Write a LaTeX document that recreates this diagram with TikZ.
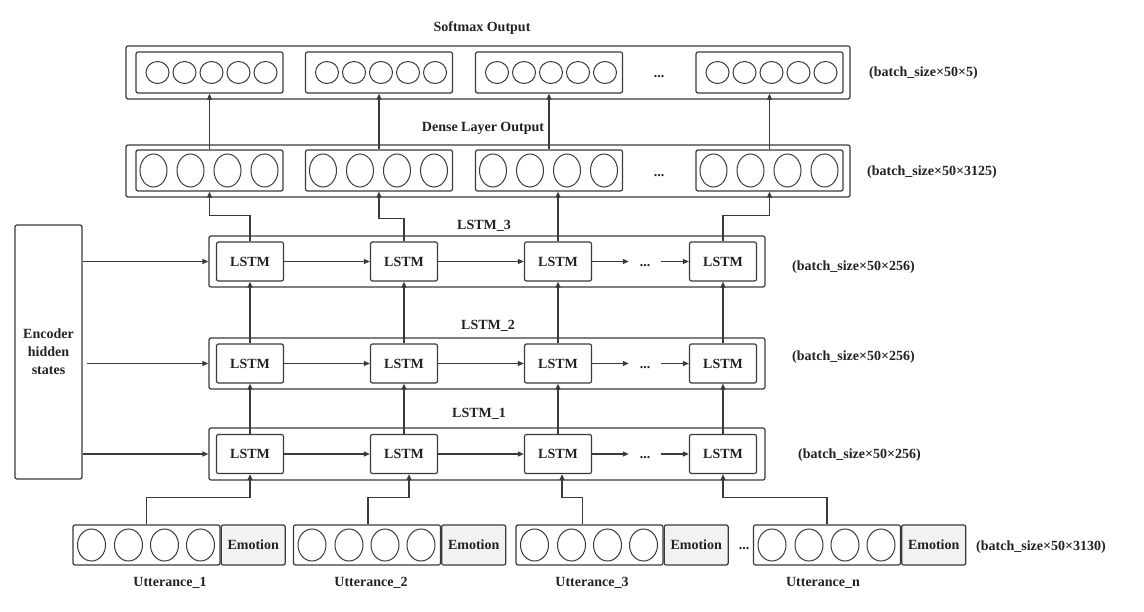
\documentclass[tikz,border=0pt]{standalone}
\usepackage{fontspec}
\setmainfont{Liberation Serif}
\usetikzlibrary{arrows.meta,calc}
\definecolor{lc}{HTML}{3A3A3A}
\definecolor{tc}{HTML}{222222}
\definecolor{emo}{HTML}{F2F2F2}
\begin{document}
\begin{tikzpicture}[x=1pt,y=-1pt,
  every node/.style={text=tc, font=\bfseries\fontsize{14}{18}\selectfont},
  frame/.style={draw=lc, line width=1.2pt, rounded corners=2pt, inner sep=0pt},
  circ/.style={draw=lc, line width=1pt},
  arr/.style={draw=lc, line width=1.2pt, -{Triangle[length=6pt,width=5pt]}},
  note/.style={anchor=west, inner sep=0pt},
  dotsnode/.style={minimum width=32, inner sep=0pt}]
\useasboundingbox (0,0) rectangle (1144,612);

% ---------- Softmax output ----------
\node (stitle) at (482,28.5) {Softmax Output};
\node[frame, minimum width=724, minimum height=53] (sout) at (488,72.5) {};
\foreach \i/\x in {1/209.5,2/379,3/549,4/769.5}{
  \node[frame, minimum width=147, minimum height=41] (s\i) at (\x,72.5) {};
  \foreach \o in {-52,-25,2,29,56}
    \draw[circ] (\x+\o,72.5) ellipse [x radius=11.5, y radius=11];
}
\node (sdots) at (659,77) {...};
\node[note] (snote) at (869,73) {(batch\_size×50×5)};

% ---------- Dense layer output ----------
\node (dtitle) at (483,128) {Dense Layer Output};
\node[frame, minimum width=724, minimum height=52] (dout) at (488,171) {};
\foreach \i/\x in {1/209.5,2/379,3/549,4/769.5}{
  \node[frame, minimum width=147, minimum height=41] (d\i) at (\x,170.5) {};
  \foreach \o in {-56,-19,18,55}
    \draw[circ] (\x+\o,170.5) ellipse [x radius=13.5, y radius=16.5];
}
\node (ddots) at (659,176) {...};
\node[note] (dnote) at (867,172) {(batch\_size×50×3125)};

% ---------- Encoder ----------
\node[frame, minimum width=67, minimum height=254, align=center] (enc) at (48.5,352) {Encoder\\hidden\\states};

% ---------- LSTM rows ----------
\foreach \r/\y/\h in {3/261.5/51,2/363.5/51,1/454/52}{
  \node[frame, minimum width=556, minimum height=\h] (r\r) at (487,\y) {};
  \foreach \i/\x in {1/250,2/404,3/558,4/723}
    \node[frame, minimum width=67, minimum height=39] (l\r\i) at (\x,\y) {LSTM};
  \node[dotsnode] (dt\r) at (645,\y+4) {...};
  \draw[arr] (l\r1.east) -- (l\r2.west);
  \draw[arr] (l\r2.east) -- (l\r3.west);
  \draw[arr] (l\r3.east) -- (l\r3.east -| dt\r.west);
  \draw[arr] (dt\r.east |- l\r4.west) -- (l\r4.west);
}
\node (lab3) at (484,226) {LSTM\_3};
\node (lab2) at (488,326) {LSTM\_2};
\node (lab1) at (479,414) {LSTM\_1};
\node[note] (n3) at (792,267) {(batch\_size×50×256)};
\node[note] (n2) at (792,357) {(batch\_size×50×256)};
\node[note] (n1) at (798,455) {(batch\_size×50×256)};

% encoder inputs
\draw[arr] (enc.east |- r3.center) -- (r3.west);
\draw[arr] ([xshift=4pt]enc.east |- r2.center) -- (r2.west);
\draw[arr] (enc.east |- r1.center) -- (r1.west);

% vertical between rows
\foreach \i in {1,2,3,4}{
  \draw[arr] (l1\i.north) -- (l2\i.south);
  \draw[arr] (l2\i.north) -- (l3\i.south);
}

% LSTM_3 -> dense
\draw[arr] (l31.north) -- ++(0,-25.5) -| (d1.south);
\draw[arr] (l32.north) -- ++(0,-22.5) -| (d2.south);
\draw[arr] (l33.north) -- (l33.north |- d3.south);
\draw[arr] (l34.north) -- ++(0,-25.5) -| (d4.south);

% dense -> softmax
\foreach \i in {1,2,3,4}
  \draw[arr] (d\i.north) -- (s\i.south);

% ---------- Utterances ----------
\foreach \i/\x in {1/146.5,2/367,3/589.5,4/827}{
  \node[frame, minimum width=147, minimum height=40] (u\i) at (\x,545) {};
  \node[frame, fill=emo, minimum width=64, minimum height=40, anchor=west] (e\i) at (u\i.east) {Emotion};
  \foreach \o in {-55,-18,18,54}
    \draw[circ] (\x+\o,545) ellipse [x radius=14, y radius=16];
}
\node (udots) at (744,549) {...};
\node[note] (unote) at (976,547) {(batch\_size×50×3130)};
\node (ut1) at (170,583) {Utterance\_1};
\node (ut2) at (371,583) {Utterance\_2};
\node (ut3) at (592,583) {Utterance\_3};
\node (ut4) at (823,583) {Utterance\_n};

\draw[arr] (u1.north) -- ++(0,-27) -| (l11.south);
\draw[arr] ([xshift=1pt]u2.north) -- ++(0,-27) -| ([xshift=5pt]l12.south);
\draw[arr] ([xshift=-7pt]u3.north) -- ++(0,-27) -| ([xshift=4pt]l13.south);
\draw[arr] (u4.north) -- ++(0,-27) -| (l14.south);
\end{tikzpicture}
\end{document}
